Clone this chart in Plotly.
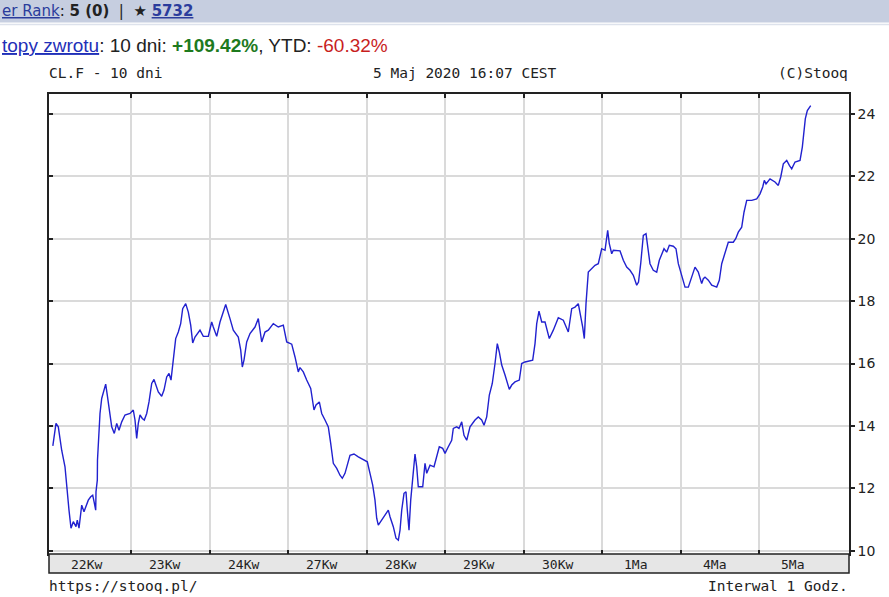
import plotly.graph_objects as go

# ---- data (hours from start of first session, price) ----
hours = [0.1, 1.07, 1.77, 2.81, 3.82, 4.34, 5.04, 5.66, 6.36, 7.18, 7.58, 8.10, 8.93, 9.63, 10.24,
         10.94, 11.68, 12.29, 12.78, 13.21, 13.30, 13.70, 13.75, 14.22, 14.52, 15.04, 15.74, 16.26,
         16.75, 17.36, 18.10, 18.89, 19.63, 20.33, 21.16, 22.16, 23.69, 24.70, 25.22, 25.74, 26.23,
         26.75, 27.45, 28.06, 28.80, 29.50, 30.33, 31.03, 31.64, 32.34, 33.38, 34.09, 34.91, 35.62,
         36.23, 36.62, 37.14, 37.66, 38.46, 39.19, 39.80, 40.72, 41.52, 42.25, 42.86, 43.56, 45.09,
         46.10, 47.63, 48.67, 49.16, 50.20, 51.21, 52.95, 54.26, 55.27, 56.80, 57.54, 58.03, 58.54,
         59.37, 60.38, 61.91, 62.92, 63.96, 64.96, 65.97, 67.50, 69.03, 70.56, 71.60, 73.13, 74.14,
         75.14, 75.66, 76.67, 77.71, 78.94, 79.94, 80.56, 81.57, 82.30, 83.31, 84.32, 85.05, 85.85,
         86.89, 87.89, 88.60, 89.42, 90.95, 92.17, 93.49, 95.54, 96.24, 97.06, 97.89, 98.59, 99.11,
         99.60, 100.64, 102.66, 103.18, 104.19, 105.01, 105.72, 106.24, 106.76, 107.46, 108.07,
         108.47, 108.99, 109.51, 110.30, 110.82, 111.34, 111.83, 113.18, 113.88, 114.40, 115.41,
         116.63, 117.46, 118.25, 119.29, 120.00, 121.00, 122.04, 122.53, 123.57, 124.27, 125.10,
         125.80, 126.63, 127.64, 129.17, 130.17, 131.21, 131.92, 132.74, 133.54, 134.45, 135.28,
         135.98, 136.59, 137.33, 138.34, 139.65, 140.39, 141.39, 142.71, 143.44, 144.45, 146.80,
         147.51, 148.03, 148.73, 149.56, 150.57, 151.88, 153.10, 154.63, 156.16, 157.69, 158.73,
         159.74, 160.74, 161.26, 162.09, 162.58, 163.10, 163.80, 164.84, 165.85, 166.86, 167.38,
         167.90, 168.91, 169.43, 169.73, 170.22, 170.96, 171.45, 173.50, 174.51, 175.54, 176.55,
         177.56, 178.60, 179.15, 179.82, 180.62, 181.44, 181.96, 182.66, 183.67, 184.71, 185.51,
         186.24, 186.95, 187.77, 188.57, 189.79, 190.61, 191.32, 192.36, 193.37, 194.38, 195.41,
         196.42, 197.43, 198.47, 198.96, 199.48, 200.49, 201.53, 203.06, 203.85, 204.59, 205.60,
         206.60, 208.13, 208.87, 209.66, 210.70, 211.40, 212.23, 213.76, 215.29, 216.30, 217.12,
         217.61, 218.13, 219.35, 220.88, 221.89, 222.63, 223.42, 224.46, 225.26, 225.99, 227.00,
         228.53, 229.23, 229.75, 230.15, 230.76, 231.80]
prices = [13.36, 14.08, 13.97, 13.22, 12.69, 12.05, 11.30, 10.72, 10.93, 10.77, 10.98, 10.72, 11.46,
          11.25, 11.41, 11.62, 11.73, 11.78, 11.53, 11.30, 11.89, 12.26, 12.90, 13.76, 14.40, 14.88,
          15.15, 15.34, 14.99, 14.51, 13.97, 13.76, 14.08, 13.86, 14.13, 14.35, 14.40, 14.51, 14.19,
          13.60, 14.08, 14.35, 14.24, 14.19, 14.40, 14.77, 15.36, 15.49, 15.31, 15.09, 14.95, 15.15,
          15.57, 15.68, 15.47, 15.79, 16.37, 16.80, 17.01, 17.28, 17.76, 17.92, 17.65, 17.23, 16.66,
          16.85, 17.07, 16.87, 16.87, 17.33, 17.17, 16.87, 17.33, 17.89, 17.44, 17.07, 16.85, 16.43,
          15.89, 16.11, 16.69, 16.96, 17.17, 17.44, 16.69, 17.01, 17.07, 17.28, 17.17, 17.23, 16.69,
          16.62, 16.21, 15.73, 15.87, 15.73, 15.47, 15.20, 14.51, 14.67, 14.77, 14.40, 14.19, 13.97,
          13.44, 12.80, 12.64, 12.42, 12.32, 12.48, 13.06, 13.10, 13.01, 12.90, 12.85, 12.48, 12.10,
          11.62, 11.04, 10.82, 10.98, 11.30, 11.09, 10.77, 10.40, 10.34, 10.66, 11.30, 11.84, 11.89,
          11.30, 10.66, 11.62, 12.48, 13.10, 12.69, 12.05, 12.05, 12.80, 12.48, 12.74, 12.69, 13.01,
          13.33, 13.28, 13.12, 13.33, 13.54, 13.92, 13.97, 13.92, 14.13, 13.70, 13.54, 13.97, 14.19,
          14.29, 14.19, 14.02, 14.29, 14.99, 15.36, 16.00, 16.64, 16.37, 15.95, 15.63, 15.17, 15.31,
          15.41, 15.47, 16.00, 16.05, 16.11, 16.64, 17.28, 17.68, 17.33, 17.33, 16.80, 17.07, 17.47,
          17.39, 17.01, 17.76, 17.81, 17.92, 17.65, 17.17, 16.80, 17.92, 18.93, 19.04, 19.15, 19.20,
          19.47, 19.68, 19.63, 20.16, 20.27, 19.84, 19.52, 19.63, 19.61, 19.31, 19.09, 18.99, 18.83,
          18.51, 18.61, 19.20, 20.11, 20.16, 19.73, 19.20, 18.99, 18.93, 19.31, 19.52, 19.68, 19.57,
          19.79, 19.76, 19.68, 19.20, 18.77, 18.45, 18.45, 18.77, 19.09, 18.93, 18.56, 18.72, 18.77,
          18.67, 18.51, 18.45, 18.67, 19.20, 19.52, 19.89, 19.89, 20.00, 20.21, 20.37, 20.85, 21.23,
          21.23, 21.28, 21.44, 21.66, 21.87, 21.76, 21.92, 21.82, 21.71, 21.98, 22.40, 22.51, 22.35,
          22.24, 22.46, 22.51, 22.94, 23.47, 23.85, 24.11, 24.27]
day_labels = ["22Kw", "23Kw", "24Kw", "27Kw", "28Kw", "29Kw", "30Kw", "1Ma", "4Ma", "5Ma"]
day_bounds = [24, 48, 72, 96, 120, 144, 168, 192, 216]
y_ticks = [10, 12, 14, 16, 18, 20, 22, 24]

# ---- layout geometry (pixels) ----
W, H = 889, 597
L, R, T, B = 49, 849, 94, 554


def px(x):
    return (x - L) / (R - L)


def py(y):
    return (B - y) / (B - T)


MONO = "DejaVu Sans Mono"
INK = "#222222"

fig = go.Figure()
fig.add_trace(go.Scatter(x=hours, y=prices, mode="lines",
                         line=dict(color="#2121cf", width=1.4),
                         showlegend=False, hoverinfo="skip"))
fig.add_trace(go.Scatter(x=hours[:1], y=prices[:1], mode="lines", yaxis="y2",
                         line=dict(color="rgba(0,0,0,0)"), showlegend=False, hoverinfo="skip"))

grid = "#dadada"
fig.update_layout(
    width=W, height=H,
    margin=dict(l=L, r=W - R, t=T, b=H - B, pad=0),
    paper_bgcolor="white", plot_bgcolor="white",
    xaxis=dict(range=[-1.07, 243.5], tickmode="array", tickvals=day_bounds,
               showticklabels=False, ticks="inside", ticklen=4, tickwidth=1.5, tickcolor=INK,
               showgrid=True, gridcolor=grid, gridwidth=1.5, zeroline=False,
               showline=True, linecolor=INK, linewidth=1.5, mirror="ticks", fixedrange=True),
    yaxis=dict(range=[9.894, 24.64], side="right", tickmode="array", tickvals=y_ticks,
               ticks="outside", ticklen=4, tickwidth=1.5, tickcolor=INK,
               tickfont=dict(family="DejaVu Sans", size=14, color=INK),
               showgrid=True, gridcolor=grid, gridwidth=1.5, zeroline=False,
               showline=True, linecolor=INK, linewidth=1.5, mirror=True, fixedrange=True),
    yaxis2=dict(range=[9.894, 24.64], overlaying="y", side="left", tickmode="array",
                tickvals=y_ticks, ticks="inside", ticklen=4, tickwidth=1.5, tickcolor=INK,
                showticklabels=False, showgrid=False, zeroline=False, showline=False,
                fixedrange=True),
)

shapes = [
    # top banner
    dict(type="rect", xref="paper", yref="paper", x0=px(0), x1=px(W), y0=py(22.5), y1=py(0),
         fillcolor="#c6cee0", line=dict(width=0), layer="below"),
    dict(type="line", xref="paper", yref="paper", x0=px(0), x1=px(W), y0=py(24.5), y1=py(24.5),
         line=dict(color="#dde2ec", width=1.5)),
    # date label band
    dict(type="rect", xref="paper", yref="paper", x0=0, x1=1, y0=py(573), y1=0,
         fillcolor="#e6e6e6", line=dict(color=INK, width=1.5), layer="above"),
]
fig.update_layout(shapes=shapes)

ann = []
for i, lab in enumerate(day_labels):
    ann.append(dict(text=lab, xref="x", yref="paper", x=24 * i + 10.3, y=py(564.5),
                    showarrow=False, xanchor="center", yanchor="middle",
                    font=dict(family=MONO, size=13, color=INK)))

link = "#2b3c9c"
ann += [
    dict(text=(f'<span style="color:{link};text-decoration:underline">er Rank</span>: '
               f'<b>5 (0)</b>  |  ★ <b><span style="color:{link};text-decoration:underline">5732</span></b>'),
         xref="paper", yref="paper", x=px(0), y=py(10.5), xanchor="left", yanchor="middle",
         showarrow=False, font=dict(family="DejaVu Sans", size=15, color="#222222")),
    dict(text=(f'<span style="color:#1f2fb8;text-decoration:underline">topy zwrotu</span>: 10 dni: '
               '<b><span style="color:#1e7a1e">+109.42%</span></b>, YTD: '
               '<span style="color:#c81e1e">-60.32%</span>'),
         xref="paper", yref="paper", x=px(0), y=py(45.5), xanchor="left", yanchor="middle",
         showarrow=False, font=dict(family="Liberation Sans", size=19, color="#222222")),
    dict(text="CL.F - 10 dni", xref="paper", yref="paper", x=px(47), y=py(72.5),
         xanchor="left", yanchor="middle", showarrow=False,
         font=dict(family=MONO, size=14.5, color=INK)),
    dict(text="5 Maj 2020 16:07 CEST", xref="paper", yref="paper", x=px(465), y=py(72.5),
         xanchor="center", yanchor="middle", showarrow=False,
         font=dict(family=MONO, size=14.5, color=INK)),
    dict(text="(C)Stooq", xref="paper", yref="paper", x=px(850), y=py(72.5),
         xanchor="right", yanchor="middle", showarrow=False,
         font=dict(family=MONO, size=14.5, color=INK)),
    dict(text="https://stooq.pl/", xref="paper", yref="paper", x=px(47), y=py(586),
         xanchor="left", yanchor="middle", showarrow=False,
         font=dict(family=MONO, size=14.5, color=INK)),
    dict(text="Interwal 1 Godz.", xref="paper", yref="paper", x=px(850), y=py(586),
         xanchor="right", yanchor="middle", showarrow=False,
         font=dict(family=MONO, size=14.5, color=INK)),
]
fig.update_layout(annotations=ann)

fig.write_html("out.html", config={"displayModeBar": False},
               post_script="document.body.style.margin='0';document.body.style.overflow='hidden';")
